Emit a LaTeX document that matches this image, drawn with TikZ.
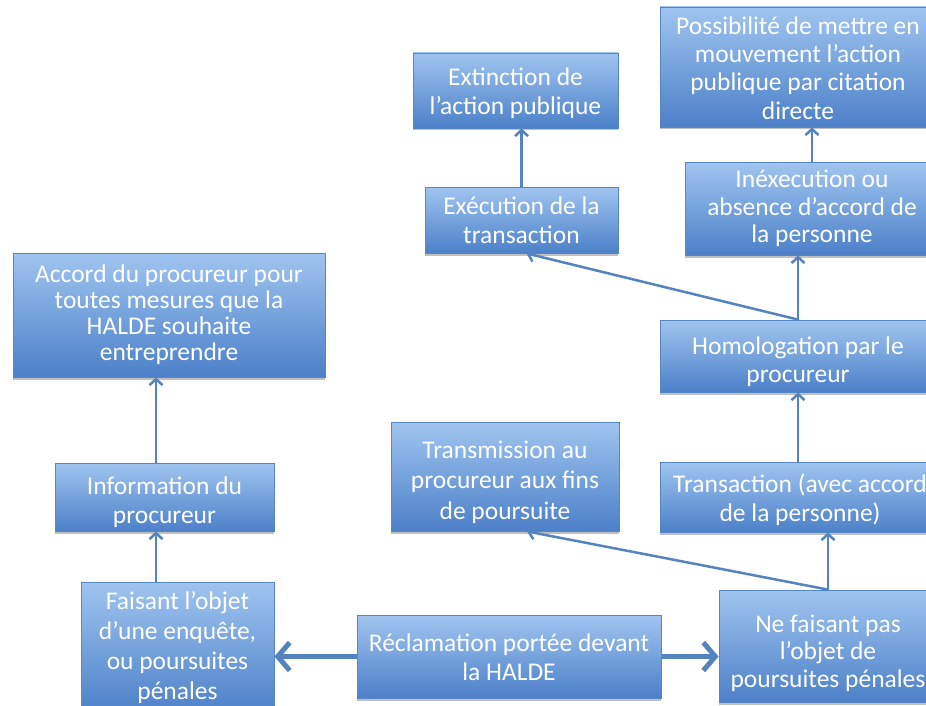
\documentclass[tikz,border=0pt]{standalone}
\usepackage{fontspec}
\setmainfont{Carlito}
\usetikzlibrary{arrows.meta,shadows,calc}
\definecolor{boxtop}{RGB}{160,196,240}
\definecolor{boxbot}{RGB}{76,128,200}
\definecolor{boxline}{RGB}{86,134,196}
\definecolor{arr}{RGB}{84,132,192}
\newcommand{\txtlines}[3]{\raisebox{#1}[\height][\depth]{\fontsize{25.5}{#2}\selectfont\begin{tabular}{@{}c@{}}#3\end{tabular}}}
\tikzset{
 box/.style={rectangle, draw=boxline, line width=0.8pt, top color=boxtop, bottom color=boxbot,
   text=white, inner sep=0pt,
   drop shadow={shadow xshift=0pt, shadow yshift=-2.5pt, opacity=0.25, fill=black}},
 conn/.style={draw=arr, line width=2.5pt, -{Straight Barb[length=6pt,width=13pt]}},
 bigconn/.style={draw=arr, line width=5pt, -{Straight Barb[length=12pt,width=28pt]}}
}
\begin{document}
\begin{tikzpicture}[x=1pt,y=-1pt]
\fill[white] (0,0) rectangle (926,706);
\begin{scope}
\clip (0,0) rectangle (926,706);
\node[box, minimum width=205pt, minimum height=75pt] (ext) at (515.5,90.5) {\txtlines{-4pt}{29pt}{Extinction de\\l’action publique}};
\node[box, minimum width=276pt, minimum height=120pt] (poss) at (798,67) {\txtlines{-4pt}{28.3pt}{Possibilité de mettre en\\mouvement l’action\\publique par citation\\directe}};
\node[box, minimum width=193pt, minimum height=66pt] (exe) at (521.5,220) {\txtlines{-3.5pt}{28.5pt}{Exécution de la\\transaction}};
\node[box, minimum width=254pt, minimum height=93pt] (inex) at (812,208.5) {\txtlines{-1pt}{27.5pt}{Inéxecution ou\\absence d’accord de\\la personne}};
\node[box, minimum width=312pt, minimum height=124pt] (acc) at (169,315) {\txtlines{-1pt}{26pt}{Accord du procureur pour\\toutes mesures que la\\HALDE souhaite\\entreprendre}};
\node[box, minimum width=276pt, minimum height=72pt] (homo) at (798,356) {\txtlines{-7pt}{28.5pt}{Homologation par le\\procureur}};
\node[box, minimum width=228pt, minimum height=109pt] (trm) at (505,476.5) {\txtlines{-6pt}{30.5pt}{Transmission au\\procureur aux fins\\de poursuite}};
\node[box, minimum width=219pt, minimum height=68pt] (info) at (164.5,497) {\txtlines{-6pt}{29pt}{Information du\\procureur}};
\node[box, minimum width=280pt, minimum height=70pt] (trn) at (800,497) {\txtlines{-4.5pt}{28.5pt}{Transaction (avec accord\\de la personne)}};
\node[box, minimum width=193pt, minimum height=132pt] (fais) at (177.5,648) {\txtlines{0pt}{30pt}{Faisant l’objet\\d’une enquête,\\ou poursuites\\pénales}};
\node[box, minimum width=304pt, minimum height=83pt] (recl) at (509,656.5) {\txtlines{-4pt}{29pt}{Réclamation portée devant\\la HALDE}};
\node[box, minimum width=218pt, minimum height=112pt] (nefa) at (828,646) {\txtlines{-8pt}{27.5pt}{Ne faisant pas\\l’objet de\\poursuites pénales}};
\coordinate (lc) at (156,0);
\draw[conn] (exe.north) -- (exe.north |- ext.south);
\draw[conn] (homo.north) -- (homo.north |- inex.south);
\draw[conn] (inex.north) -- (inex.north |- poss.south);
\draw[conn] (homo.north) -- ($(exe.south)+(5,0)$);
\draw[conn] (homo.south |- trn.north) -- (homo.south);
\draw[conn] (nefa.north) -- (nefa.north |- trn.south);
\draw[conn] (nefa.north) -- ($(trm.south)+(22,0)$);
\draw[conn] (lc |- fais.north) -- (lc |- info.south);
\draw[conn] (lc |- info.north) -- (lc |- acc.south);
\draw[bigconn] (recl.west) -- (recl.west -| fais.east);
\draw[bigconn] (recl.east) -- (recl.east -| nefa.west);
\end{scope}
\pgfresetboundingbox
\path[use as bounding box] (0,0) rectangle (926,706);
\end{tikzpicture}
\end{document}
